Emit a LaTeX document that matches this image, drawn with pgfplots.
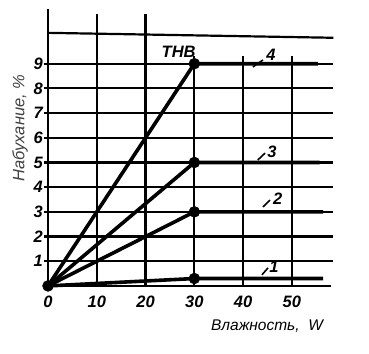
\documentclass[border=0pt]{standalone}
\usepackage{fontspec}
\setmainfont{Liberation Sans}
\usepackage{pgfplots}
\pgfplotsset{compat=1.18}
\begin{document}
\begin{tikzpicture}
\begin{axis}[
  scale only axis, width=283pt, height=276.6pt,
  xmin=0, xmax=58, ymin=0, ymax=11.2,
  axis x line=bottom, axis y line=left,
  axis line style={-, line width=2.6pt},
  xtick={0,10,...,50}, ytick={1,...,9},
  /pgf/number format/assume math mode=true,
  ticklabel style={font=\fontsize{16.5}{16.5}\selectfont\bfseries\itshape},
  xtick style={draw=none},
  ytick style={line width=2.2pt, black},
  tick align=outside, major tick length=4pt,
  yticklabel style={inner sep=0pt, xshift=-1pt},
  xticklabel style={inner sep=0pt, yshift=-6pt},
  clip=false,
  xlabel={Влажность,~~W},
  ylabel={Набухание, \%},
  xlabel style={at={(rel axis cs:0.774,-0.145)}, anchor=center, font=\fontsize{15.5}{15.5}\selectfont\itshape},
  ylabel style={at={(rel axis cs:-0.099,0.571)}, anchor=center, font=\fontsize{16.5}{16.5}\selectfont\itshape, text=black!75},
]
% grid (decoration)
\pgfplotsinvokeforeach{1,...,9}{\draw[line width=2.2pt] (axis cs:0,#1) -- (axis cs:58.5,#1);}
\draw[line width=2.2pt] (axis cs:0,10.25) -- (axis cs:58.5,10.05);
\pgfplotsinvokeforeach{10,20}{\draw[line width=2.2pt] (axis cs:#1,0) -- (axis cs:#1,11.0);}
\pgfplotsinvokeforeach{30,40,50}{\draw[line width=2.2pt] (axis cs:#1,0) -- (axis cs:#1,9.3);}
% data
\addplot[line width=3.6pt, black, no marks] coordinates {(0,0) (30,9) (55.3,9)};
\addplot[line width=3.6pt, black, no marks] coordinates {(0,0) (30,5) (55.7,5)};
\addplot[line width=3.6pt, black, no marks] coordinates {(0,0) (30,3) (56.4,3)};
\addplot[line width=3.6pt, black, no marks] coordinates {(0,0) (30,0.3) (56.4,0.3)};
\addplot[only marks, mark=*, mark size=5.5pt, black] coordinates {(0,0) (30,9) (30,5) (30,3) (30,0.3)};
% labels
\node[font=\fontsize{16.5}{16.5}\selectfont\bfseries\itshape, anchor=south east, inner sep=0pt] at (axis cs:30.3,9.25) {ТНВ};
\draw[line width=1.6pt] (axis cs:42.0,8.87) -- (axis cs:44.06,9.15);
\node[font=\fontsize{16.5}{16.5}\selectfont\bfseries\itshape, inner sep=0pt] at (axis cs:45.7,9.35) {4};
\draw[line width=1.6pt] (axis cs:43.0,5.10) -- (axis cs:44.5,5.38);
\node[font=\fontsize{16.5}{16.5}\selectfont\bfseries\itshape, inner sep=0pt] at (axis cs:45.9,5.43) {3};
\draw[line width=1.6pt] (axis cs:44.06,3.20) -- (axis cs:45.5,3.48);
\node[font=\fontsize{16.5}{16.5}\selectfont\bfseries\itshape, inner sep=0pt] at (axis cs:47.1,3.52) {2};
\draw[line width=1.6pt] (axis cs:43.85,0.45) -- (axis cs:45.1,0.73);
\node[font=\fontsize{16.5}{16.5}\selectfont\bfseries\itshape, inner sep=0pt] at (axis cs:46.3,0.77) {1};
\path (axis cs:-9.84,-2.75) rectangle (axis cs:65.8,11.58);
\end{axis}
\end{tikzpicture}
\end{document}
